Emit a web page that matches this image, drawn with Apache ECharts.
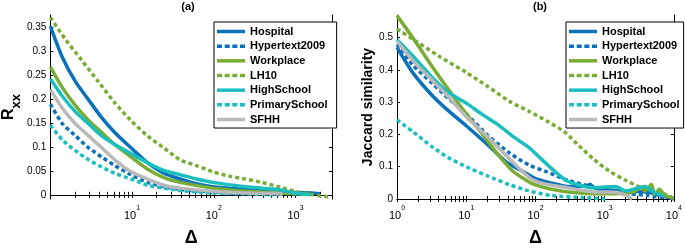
<!DOCTYPE html>
<html>
<head>
<meta charset="utf-8">
<script src="https://cdn.jsdelivr.net/npm/echarts@6/dist/echarts.min.js"></script>
<style>
  html, body { margin: 0; padding: 0; background: #fff; }
  #main { width: 685px; height: 252px; }
</style>
</head>
<body>
<div id="main"></div>
<script>
// series names, same for both panels
const names = ['Hospital', 'Hypertext2009', 'Workplace', 'LH10', 'HighSchool', 'PrimarySchool', 'SFHH'];

// panel (a): R_xx vs delta, [delta, value]
const hospitalA = [[1,0.352],[1.41,0.286],[2.03,0.236],[2.94,0.198],[4.25,0.161],[6.14,0.130],[9.7,0.098],[15.4,0.067],[24.4,0.045],[38.7,0.033],[61.4,0.023],[97,0.017],[244,0.011],[614,0.006],[1542,0.004],[2000,0.0025]];
const hypertextA = [[1,0.189],[1.41,0.148],[2.03,0.123],[2.94,0.098],[4.25,0.079],[6.14,0.061],[9.7,0.042],[15.4,0.026],[24.4,0.017],[38.7,0.011],[97,0.006],[244,0.003],[1542,0.001]];
const workplaceA = [[1,0.267],[1.41,0.223],[2.03,0.186],[2.94,0.155],[4.25,0.130],[6.14,0.105],[9.7,0.079],[15.4,0.054],[24.4,0.036],[38.7,0.026],[97,0.014],[244,0.0075],[614,0.004],[1500,0.001]];
const lh10A = [[1,0.37],[1.54,0.3235],[2.44,0.280],[3.87,0.236],[6.14,0.192],[9.7,0.155],[15.4,0.123],[24.4,0.098],[38.7,0.073],[61.4,0.061],[97,0.048],[154,0.039],[244,0.033],[387,0.026],[614,0.017],[973,0.0075],[1542,0.001],[2690,-0.005]];
const highSchoolA = [[1,0.242],[1.41,0.205],[2.03,0.173],[2.94,0.148],[4.25,0.123],[6.14,0.105],[9.7,0.086],[15.4,0.067],[24.4,0.051],[38.7,0.042],[61.4,0.033],[97,0.026],[244,0.017],[614,0.011],[973,0.004],[1542,0]];
const primaryA = [[1,0.145],[1.41,0.114],[2.03,0.092],[2.94,0.073],[4.25,0.058],[6.14,0.045],[9.7,0.033],[15.4,0.020],[24.4,0.014],[38.7,0.009],[97,0.004],[244,0.002],[614,0]];
const sfhhA = [[1,0.22],[1.41,0.18],[2.03,0.148],[2.94,0.123],[4.25,0.098],[6.14,0.073],[9.7,0.048],[15.4,0.033],[24.4,0.020],[38.7,0.014],[97,0.0075],[244,0.004],[614,0.003],[700,0.001]];

// panel (b): Jaccard similarity vs delta
const hospitalB = [[1,0.47],[1.71,0.39],[3.25,0.32],[5.55,0.273],[10,0.227],[20,0.170],[38.1,0.114],[65.2,0.086],[100,0.063],[171,0.049],[292,0.039],[550,0.040],[618,0.046],[700,0.035],[851,0.030],[2005,0.025],[4246,0.021],[7250,0.008],[10000,0]];
const hypertextB = [[1,0.479],[1.71,0.414],[3.25,0.358],[5.55,0.311],[10,0.264],[20,0.199],[42.5,0.142],[80.7,0.105],[138,0.086],[292,0.058],[618,0.039],[1455,0.021],[4246,0.011],[7250,0.004]];
const workplaceB = [[1,0.568],[1.71,0.498],[3.25,0.409],[5.55,0.339],[10,0.264],[16.2,0.208],[27.7,0.142],[47.2,0.086],[80.7,0.053],[100,0.044],[171,0.030],[292,0.022],[851,0.016],[2485,0.02],[3300,0.035],[3813,0.025],[4723,0.045],[5258,0.015],[6200,0.03],[7250,0.012],[10000,0.002]];
const lh10B = [[1,0.527],[2,0.485],[4,0.443],[10,0.392],[20,0.35],[42.5,0.302],[80,0.272],[150,0.24],[262,0.208],[403,0.170],[687,0.124],[1175,0.086],[2005,0.058],[3077,0.039],[4723,0.025],[7250,0.016],[10000,0.002]];
const highSchoolB = [[1,0.493],[1.71,0.442],[3.25,0.376],[5.55,0.33],[10,0.297],[17,0.262],[28,0.232],[50,0.19],[80,0.16],[120,0.125],[180,0.09],[292,0.055],[687,0.035],[1455,0.039],[2005,0.025],[3813,0.039],[5258,0.02],[7250,0.008]];
const primaryB = [[1,0.245],[1.71,0.208],[3.25,0.161],[5.55,0.128],[10,0.1],[20,0.072],[42.5,0.044],[80.7,0.025],[171,0.011],[499,0.004],[1055,0]];
const sfhhB = [[1,0.489],[1.71,0.428],[3.25,0.367],[5.55,0.316],[10,0.255],[20,0.194],[42.5,0.124],[80.7,0.067],[124,0.049],[292,0.035],[687,0.022],[1455,0.021],[2005,0.011],[2485,0]];

// tick labels
const yTicksA = [0, 0.05, 0.1, 0.15, 0.2, 0.25, 0.3, 0.35];
const yTicksB = [0, 0.1, 0.2, 0.3, 0.4, 0.5];
const xLabelsA = [10, 100, 1000];
const xLabelsB = [1, 10, 100, 1000, 10000];

const colors = ['#0a72ba', '#0a72ba', '#7aad36', '#7aad36', '#1cbfbf', '#1cbfbf', '#b9b9b9'];
const dotted = [false, true, false, true, false, true, false];
const dataA = [hospitalA, hypertextA, workplaceA, lh10A, highSchoolA, primaryA, sfhhA];
const dataB = [hospitalB, hypertextB, workplaceB, lh10B, highSchoolB, primaryB, sfhhB];

const solidIcon = 'path://M0,0h28v3.5h-28z';
const dotIcon = 'path://M0,0h5v3.5h-5z M7.67,0h5v3.5h-5z M15.33,0h5v3.5h-5z M23,0h5v3.5h-5z';

function logTicks(max) {
  const t = [];
  for (let e = 0; e < 5; e++) {
    for (let m = 1; m < 10; m++) {
      const v = m * Math.pow(10, e);
      if (v <= max) t.push(v);
    }
  }
  return t;
}

const font = 'Liberation Sans, Arial, sans-serif';
const supRich = {
  b: { fontSize: 11, fontFamily: font, color: '#000', verticalAlign: 'bottom', lineHeight: 16 },
  s: { fontSize: 7, fontFamily: font, color: '#000', verticalAlign: 'top', lineHeight: 16 }
};
const fmtLog = v => '{b|10}{s|' + Math.round(Math.log10(v)) + '}';

function xAxes(grid, max, labels) {
  const base = {
    type: 'log', logBase: 10, gridIndex: grid, min: 1, max: max,
    axisLine: { lineStyle: { color: '#000', width: 1 } },
    splitLine: { show: false },
    axisTick: { inside: true, length: 3, customValues: logTicks(max), lineStyle: { color: '#000' } }
  };
  return [
    Object.assign({}, base, {
      position: 'bottom',
      axisLabel: { customValues: labels, formatter: fmtLog, rich: supRich, margin: 6, color: '#000' },
      name: 'Δ', nameLocation: 'middle', nameGap: 30,
      nameTextStyle: { fontFamily: font, fontWeight: 'bold', fontSize: 18, color: '#000' }
    }),
    Object.assign({}, base, { position: 'top', axisLabel: { show: false } })
  ];
}

function yAxes(grid, min, max, ticks, name, rich, gap) {
  const base = {
    type: 'value', gridIndex: grid, min: min, max: max,
    axisLine: { show: true, lineStyle: { color: '#000', width: 1 } },
    splitLine: { show: false },
    axisTick: { show: true, inside: true, length: 3, customValues: ticks, lineStyle: { color: '#000' } }
  };
  return [
    Object.assign({}, base, {
      position: 'left',
      axisLabel: { customValues: ticks, fontFamily: font, fontSize: 10, color: '#000', margin: 4 },
      name: name, nameLocation: 'middle', nameRotate: 90, nameGap: gap,
      nameTextStyle: { fontFamily: font, fontWeight: 'bold', fontSize: 14, color: '#000', rich: rich }
    }),
    Object.assign({}, base, { position: 'right', axisLabel: { show: false } })
  ];
}

function makeSeries(data, xi, yi) {
  return data.map((d, i) => ({
    name: names[i],
    type: 'line',
    xAxisIndex: xi,
    yAxisIndex: yi,
    data: d,
    symbol: 'none',
    showSymbol: false,
    smooth: 0.25,
    lineStyle: { color: colors[i], width: 3.5, type: dotted[i] ? [4, 3] : 'solid', cap: 'butt' },
    itemStyle: { color: colors[i] },
    animation: false
  }));
}

function legend(left, padRight) {
  return {
    data: names.map((n, i) => ({ name: n, icon: dotted[i] ? dotIcon : solidIcon })),
    orient: 'vertical', left: left, top: 22,
    itemWidth: 28, itemHeight: 10, itemGap: 3.67,
    backgroundColor: '#fff', borderColor: '#000', borderWidth: 1, borderRadius: 0,
    padding: [4, padRight, 3, 3],
    textStyle: { fontFamily: font, fontWeight: 'bold', fontSize: 11, lineHeight: 10, color: '#000' }
  };
}

const chart = echarts.init(document.getElementById('main'));
chart.setOption({
  backgroundColor: '#fff',
  animation: false,
  grid: [
    { left: 45, top: 15, width: 287, height: 202 },
    { left: 397, top: 15, width: 286, height: 202 }
  ],
  xAxis: xAxes(0, 2800, xLabelsA).concat(xAxes(1, 10000, xLabelsB)),
  yAxis: yAxes(0, -0.0087, 0.375, yTicksA, '{r|R}{s|xx}', {
    r: { fontFamily: font, fontWeight: 'bold', fontSize: 16, color: '#000', verticalAlign: 'top', lineHeight: 22 },
    s: { fontFamily: font, fontWeight: 'bold', fontSize: 13, color: '#000', verticalAlign: 'bottom', lineHeight: 22 }
  }, 26).concat(yAxes(1, 0, 0.57, yTicksB, 'Jaccard similarity', null, 16)),
  legend: [legend(214, 9), legend(566, 4)],
  graphic: [
    { type: 'text', x: 188, y: 1, style: { text: '(a)', textAlign: 'center', fontFamily: font, fontWeight: 'bold', fontSize: 11, fill: '#000' } },
    { type: 'text', x: 540, y: 1, style: { text: '(b)', textAlign: 'center', fontFamily: font, fontWeight: 'bold', fontSize: 11, fill: '#000' } }
  ],
  series: makeSeries(dataA, 0, 0).concat(makeSeries(dataB, 2, 2))
});
</script>
</body>
</html>
